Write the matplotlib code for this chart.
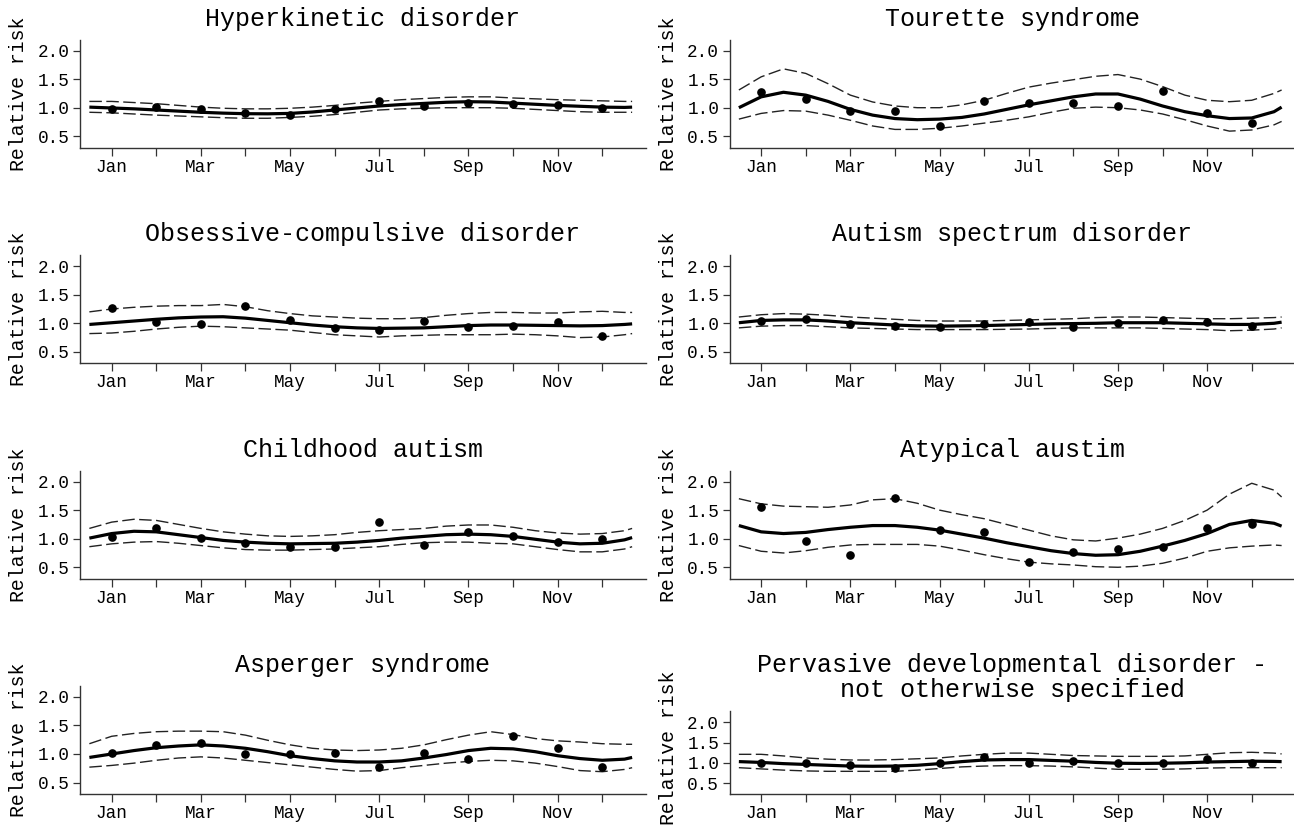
import matplotlib.pyplot as plt
import numpy as np

plt.rcParams['font.family'] = ['Liberation Mono', 'DejaVu Sans Mono']

# x positions: months 1..12 (Jan..Dec); fitted curves sampled every half month
MONTHS = np.arange(1, 13)
MONTH_LABELS = ['Jan', '', 'Mar', '', 'May', '', 'Jul', '', 'Sep', '', 'Nov', '']
CURVE_X = np.r_[np.arange(0.5, 12.51, 0.5), 12.67]

TITLES = ['Hyperkinetic disorder', 'Tourette syndrome',
          'Obsessive-compulsive disorder', 'Autism spectrum disorder',
          'Childhood autism', 'Atypical austim',
          'Asperger syndrome',
          'Pervasive developmental disorder -\nnot otherwise specified']

# Hyperkinetic disorder
hyper_pts = [0.97, 1.01, 0.97, 0.91, 0.87, 0.98, 1.12, 1.03, 1.09, 1.07, 1.04, 0.99]
hyper_fit = [1.01, 0.995, 0.98, 0.96, 0.94, 0.92, 0.905, 0.895, 0.893, 0.90, 0.925, 0.96, 0.995,
             1.03, 1.055, 1.075, 1.095, 1.105, 1.10, 1.08, 1.06, 1.04, 1.025, 1.01, 1.005, 1.01]
hyper_hi = [1.11, 1.11, 1.09, 1.07, 1.04, 1.01, 0.99, 0.98, 0.98, 0.99, 1.01, 1.04, 1.08,
            1.11, 1.14, 1.16, 1.18, 1.19, 1.19, 1.17, 1.155, 1.14, 1.13, 1.12, 1.11, 1.11]
hyper_lo = [0.92, 0.91, 0.89, 0.87, 0.855, 0.84, 0.825, 0.815, 0.815, 0.83, 0.85, 0.88, 0.92,
            0.96, 0.98, 0.99, 1.00, 1.00, 1.00, 0.99, 0.97, 0.95, 0.93, 0.92, 0.92, 0.92]

# Tourette syndrome
tour_pts = [1.27, 1.15, 0.94, 0.95, 0.68, 1.12, 1.09, 1.08, 1.03, 1.29, 0.91, 0.74]
tour_fit = [1.00, 1.19, 1.27, 1.22, 1.11, 0.97, 0.87, 0.81, 0.79, 0.80, 0.83, 0.89, 0.97,
            1.05, 1.12, 1.19, 1.24, 1.24, 1.15, 1.03, 0.93, 0.86, 0.81, 0.82, 0.93, 1.01]
tour_hi = [1.31, 1.54, 1.68, 1.60, 1.42, 1.22, 1.10, 1.03, 1.00, 1.00, 1.05, 1.13, 1.25,
           1.36, 1.43, 1.49, 1.55, 1.58, 1.50, 1.37, 1.22, 1.13, 1.105, 1.13, 1.25, 1.31]
tour_lo = [0.80, 0.90, 0.95, 0.94, 0.87, 0.78, 0.68, 0.62, 0.62, 0.64, 0.68, 0.73, 0.78,
           0.84, 0.92, 0.99, 1.01, 1.00, 0.96, 0.89, 0.79, 0.68, 0.59, 0.61, 0.70, 0.76]

# Obsessive-compulsive disorder
ocd_pts = [1.26, 1.03, 0.98, 1.30, 1.06, 0.91, 0.88, 1.04, 0.94, 0.95, 1.02, 0.77]
ocd_fit = [0.98, 1.01, 1.04, 1.07, 1.095, 1.11, 1.115, 1.09, 1.05, 1.01, 0.97, 0.94, 0.92,
           0.91, 0.915, 0.92, 0.94, 0.96, 0.97, 0.97, 0.965, 0.96, 0.955, 0.96, 0.98, 0.99]
ocd_hi = [1.20, 1.25, 1.28, 1.30, 1.31, 1.31, 1.33, 1.29, 1.22, 1.17, 1.13, 1.11, 1.09,
          1.08, 1.08, 1.10, 1.14, 1.17, 1.19, 1.19, 1.18, 1.18, 1.20, 1.21, 1.19, 1.19]
ocd_lo = [0.82, 0.83, 0.86, 0.90, 0.93, 0.95, 0.94, 0.92, 0.90, 0.88, 0.84, 0.80, 0.78,
          0.76, 0.78, 0.79, 0.80, 0.80, 0.80, 0.81, 0.80, 0.78, 0.75, 0.76, 0.80, 0.82]

# Autism spectrum disorder
asd_pts = [1.04, 1.08, 0.98, 0.96, 0.94, 0.99, 1.03, 0.94, 1.00, 1.06, 1.03, 0.96]
asd_fit = [1.01, 1.05, 1.06, 1.06, 1.04, 1.01, 0.99, 0.97, 0.955, 0.95, 0.955, 0.96, 0.97,
           0.98, 0.99, 0.995, 1.00, 1.01, 1.01, 1.01, 1.00, 0.99, 0.98, 0.98, 1.00, 1.02]
asd_hi = [1.11, 1.15, 1.17, 1.16, 1.14, 1.11, 1.09, 1.07, 1.05, 1.04, 1.04, 1.04, 1.05,
          1.06, 1.07, 1.08, 1.10, 1.11, 1.11, 1.10, 1.09, 1.08, 1.08, 1.09, 1.10, 1.11]
asd_lo = [0.92, 0.95, 0.96, 0.96, 0.94, 0.92, 0.91, 0.90, 0.89, 0.89, 0.89, 0.89, 0.895,
          0.90, 0.91, 0.92, 0.92, 0.92, 0.92, 0.91, 0.90, 0.89, 0.87, 0.88, 0.90, 0.92]

# Childhood autism
child_pts = [1.03, 1.18, 1.02, 0.92, 0.85, 0.85, 1.30, 0.89, 1.12, 1.04, 0.94, 0.99]
child_fit = [1.01, 1.09, 1.13, 1.12, 1.07, 1.02, 0.97, 0.94, 0.92, 0.91, 0.915, 0.92, 0.94,
             0.97, 1.01, 1.04, 1.07, 1.08, 1.07, 1.04, 0.99, 0.94, 0.91, 0.92, 0.98, 1.02]
child_hi = [1.18, 1.29, 1.34, 1.32, 1.25, 1.18, 1.12, 1.08, 1.05, 1.04, 1.05, 1.07, 1.11,
            1.14, 1.16, 1.18, 1.22, 1.24, 1.24, 1.20, 1.14, 1.10, 1.08, 1.09, 1.14, 1.18]
child_lo = [0.86, 0.91, 0.94, 0.95, 0.92, 0.88, 0.84, 0.81, 0.80, 0.80, 0.81, 0.82, 0.84,
            0.86, 0.90, 0.93, 0.94, 0.94, 0.92, 0.91, 0.86, 0.81, 0.77, 0.77, 0.82, 0.86]

# Atypical autism
atyp_pts = [1.55, 0.96, 0.72, 1.71, 1.16, 1.11, 0.60, 0.77, 0.82, 0.86, 1.18, 1.26]
atyp_fit = [1.23, 1.12, 1.09, 1.11, 1.16, 1.20, 1.23, 1.23, 1.20, 1.15, 1.08, 1.01, 0.93,
            0.86, 0.79, 0.74, 0.71, 0.72, 0.78, 0.87, 0.97, 1.09, 1.25, 1.32, 1.27, 1.22]
atyp_hi = [1.70, 1.61, 1.57, 1.56, 1.55, 1.59, 1.68, 1.70, 1.62, 1.50, 1.42, 1.35, 1.25,
           1.15, 1.05, 0.98, 0.96, 1.01, 1.08, 1.18, 1.32, 1.50, 1.78, 1.97, 1.85, 1.73]
atyp_lo = [0.88, 0.78, 0.75, 0.79, 0.85, 0.89, 0.90, 0.90, 0.90, 0.87, 0.80, 0.72, 0.65,
           0.59, 0.56, 0.54, 0.51, 0.50, 0.52, 0.57, 0.66, 0.78, 0.84, 0.87, 0.89, 0.88]

# Asperger syndrome
asp_pts = [1.01, 1.15, 1.20, 1.00, 1.00, 1.02, 0.77, 1.02, 0.91, 1.31, 1.10, 0.78]
asp_fit = [0.94, 1.00, 1.06, 1.11, 1.14, 1.16, 1.14, 1.10, 1.04, 0.97, 0.92, 0.88, 0.86,
           0.86, 0.88, 0.93, 0.99, 1.06, 1.10, 1.09, 1.04, 0.97, 0.92, 0.89, 0.91, 0.94]
asp_hi = [1.18, 1.31, 1.36, 1.39, 1.40, 1.40, 1.39, 1.33, 1.24, 1.16, 1.10, 1.07, 1.06,
          1.07, 1.10, 1.16, 1.25, 1.33, 1.39, 1.34, 1.27, 1.23, 1.21, 1.18, 1.17, 1.17]
asp_lo = [0.77, 0.80, 0.84, 0.89, 0.93, 0.95, 0.93, 0.89, 0.85, 0.81, 0.77, 0.73, 0.70,
          0.71, 0.76, 0.80, 0.84, 0.87, 0.89, 0.88, 0.84, 0.78, 0.71, 0.69, 0.73, 0.76]

# Pervasive developmental disorder - NOS
pdd_pts = [1.00, 0.99, 0.94, 0.88, 1.00, 1.14, 0.99, 1.04, 1.00, 1.00, 1.10, 0.99]
pdd_fit = [1.03, 1.01, 0.98, 0.96, 0.94, 0.92, 0.915, 0.92, 0.94, 0.98, 1.03, 1.07, 1.08,
           1.08, 1.06, 1.04, 1.01, 0.99, 0.985, 0.99, 1.00, 1.02, 1.03, 1.04, 1.035, 1.03]
pdd_hi = [1.21, 1.21, 1.17, 1.12, 1.09, 1.07, 1.07, 1.08, 1.10, 1.12, 1.17, 1.21, 1.24,
          1.24, 1.21, 1.18, 1.17, 1.16, 1.16, 1.16, 1.17, 1.21, 1.25, 1.26, 1.24, 1.22]
pdd_lo = [0.88, 0.85, 0.82, 0.80, 0.79, 0.79, 0.79, 0.79, 0.82, 0.86, 0.90, 0.92, 0.93,
          0.93, 0.92, 0.90, 0.87, 0.84, 0.84, 0.84, 0.85, 0.87, 0.88, 0.88, 0.88, 0.88]

paneles = [
    (hyper_pts, hyper_fit, hyper_hi, hyper_lo),
    (tour_pts, tour_fit, tour_hi, tour_lo),
    (ocd_pts, ocd_fit, ocd_hi, ocd_lo),
    (asd_pts, asd_fit, asd_hi, asd_lo),
    (child_pts, child_fit, child_hi, child_lo),
    (atyp_pts, atyp_fit, atyp_hi, atyp_lo),
    (asp_pts, asp_fit, asp_hi, asp_lo),
    (pdd_pts, pdd_fit, pdd_hi, pdd_lo),
]

W, H = 1294, 827
fig = plt.figure(figsize=(W / 100, H / 100), dpi=100)

col_left = [80, 729.5]
ax_w = 565.5
row_bottom = [147.7, 363.3, 578.7, 794]
axis_col = '#333333'

for i, (pts, fit, hi, lo) in enumerate(paneles):
    row, col = divmod(i, 2)
    alto = 108
    ylim = (0.3, 2.19)
    label_y = 0.5
    if i == 7:
        # the two-line title eats into the last panel
        alto = 83
        ylim = (0.23, 2.28)
        label_y = 0.56
    ax = fig.add_axes([col_left[col] / W, 1 - row_bottom[row] / H, ax_w / W, alto / H])

    ax.plot(CURVE_X, hi, color='#222222', lw=1.0, dashes=(9, 3.2))
    ax.plot(CURVE_X, lo, color='#222222', lw=1.0, dashes=(9, 3.2))
    ax.plot(CURVE_X, fit, color='black', lw=2.3, solid_capstyle='butt')
    ax.plot(MONTHS, pts, 'o', color='black', markersize=5.2)

    ax.set_xlim(0.29, 12.97)
    ax.set_ylim(*ylim)
    ax.set_xticks(MONTHS)
    ax.set_xticklabels(MONTH_LABELS)
    ax.set_yticks([0.5, 1.0, 1.5, 2.0])
    ax.set_yticklabels(['0.5', '1.0', '1.5', '2.0'])

    for lado in ['top', 'right']:
        ax.spines[lado].set_visible(False)
    for lado in ['left', 'bottom']:
        ax.spines[lado].set_color(axis_col)
        ax.spines[lado].set_linewidth(1.0)
    ax.tick_params(axis='x', length=5.4, width=0.9, color=axis_col, pad=2.5, labelsize=12.7)
    ax.tick_params(axis='y', length=5.0, width=0.9, color=axis_col, pad=2.5, labelsize=12.7)

    ax.set_title(TITLES[i], fontsize=18, pad=10, linespacing=1.08)
    ax.set_ylabel('Relative risk', fontsize=14.3, va='center')
    ax.yaxis.set_label_coords(-0.108, label_y)

fig.savefig('out.png', dpi=100)
